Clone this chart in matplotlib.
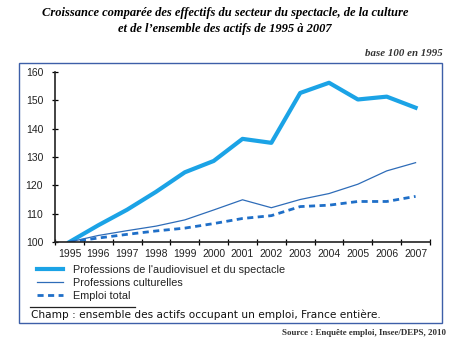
import matplotlib
matplotlib.use('Agg')
import matplotlib.pyplot as plt
from matplotlib.patches import Rectangle
from matplotlib.lines import Line2D

years = ['1995', '1996', '1997', '1998', '1999', '2000', '2001',
         '2002', '2003', '2004', '2005', '2006', '2007']
audiovisuel = [100, 105.9, 111.4, 117.7, 124.6, 128.6, 136.4,
               135.0, 152.6, 156.2, 150.3, 151.3, 147.4]
culturelles = [100, 102.3, 104.0, 105.6, 107.8, 111.3, 114.9,
               112.1, 115.0, 117.1, 120.4, 125.1, 128.0]
emploi = [100, 101.4, 102.7, 103.9, 104.9, 106.5, 108.3,
          109.3, 112.5, 113.0, 114.3, 114.3, 116.1]

W, H = 450, 340

def fx(x):
    return x / W

def fy(y):
    return 1 - y / H

fig = plt.figure(figsize=(4.5, 3.4), dpi=100)

# blue frame around the chart block
fig.add_artist(Rectangle((fx(19), fy(323)), fx(442) - fx(19), fy(63) - fy(323),
                         transform=fig.transFigure, fill=False,
                         edgecolor='#3d5fa8', linewidth=1.0))

ax = fig.add_axes([fx(55), fy(242), fx(430) - fx(55), fy(72) - fy(242)])
x = range(len(years))
ax.plot(x, audiovisuel, color='#1ba3e6', linewidth=3.0,
        label="Professions de l'audiovisuel et du spectacle")
ax.plot(x, culturelles, color='#2e6cb8', linewidth=0.9,
        label='Professions culturelles')
ax.plot(x, emploi, color='#1f6fc8', linewidth=2.0, linestyle=(0, (2.2, 1.6)),
        label='Emploi total')

ax.set_xlim(-0.5, len(years) - 0.5)
ax.set_ylim(100, 160)
ax.set_xticks([i - 0.5 for i in range(len(years) + 1)])
ax.set_xticklabels([])
ax.set_xticks(list(x), minor=True)
ax.set_xticklabels(years, minor=True)
ax.tick_params(axis='x', which='major', direction='inout', length=5, width=0.9)
ax.tick_params(axis='x', which='minor', length=0, pad=5, labelsize=7.5)
ax.set_yticks(range(100, 161, 10))
ax.tick_params(axis='y', direction='inout', length=5, width=0.9, labelsize=7.5, pad=6)
for lab in ax.get_xticklabels(minor=True) + ax.get_yticklabels():
    lab.set_fontfamily('Liberation Sans')
    lab.set_color('#222222')
for side in ['top', 'right']:
    ax.spines[side].set_visible(False)
for side in ['left', 'bottom']:
    ax.spines[side].set_linewidth(1.2)
    ax.spines[side].set_color('#222222')
ax.patch.set_alpha(0)

leg = fig.legend(loc='upper left', bbox_to_anchor=(fx(37), fy(265)),
                 frameon=False, handlelength=2.4, handletextpad=0.9,
                 labelspacing=0.28, borderpad=0, borderaxespad=0,
                 prop={'family': 'Liberation Sans', 'size': 7.8})
for t in leg.get_texts():
    t.set_color('#222222')

fig.add_artist(Line2D([fx(30), fx(135)], [fy(307), fy(307)],
                      transform=fig.transFigure, color='#222222', linewidth=0.9))
fig.text(fx(31), fy(314.5), 'Champ : ensemble des actifs occupant un emploi, France entière.',
         fontsize=7.6, family='DejaVu Sans', color='#111111', va='center', ha='left')

fig.text(fx(225), fy(13), 'Croissance comparée des effectifs du secteur du spectacle, de la culture',
         fontsize=9, family='Liberation Serif', style='italic', weight='bold',
         ha='center', va='center')
fig.text(fx(225), fy(29), "et de l’ensemble des actifs de 1995 à 2007",
         fontsize=9, family='Liberation Serif', style='italic', weight='bold',
         ha='center', va='center')
fig.text(fx(443), fy(54), 'base 100 en 1995', fontsize=7.8, family='Liberation Serif',
         style='italic', weight='bold', color='#333333', ha='right', va='center')
fig.text(fx(446), fy(333), 'Source : Enquête emploi, Insee/DEPS, 2010', fontsize=6.4,
         family='Liberation Serif', weight='bold', color='#333333', ha='right', va='center')

fig.savefig('out.png', dpi=100)
